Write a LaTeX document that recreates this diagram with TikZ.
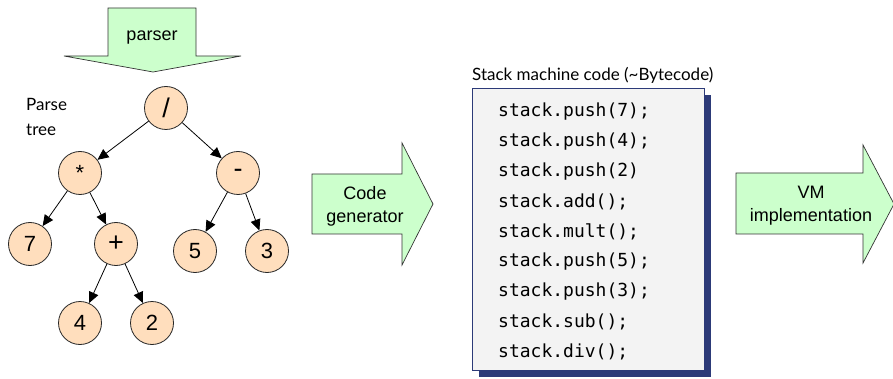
\documentclass[tikz,border=0pt]{standalone}
\usepackage{fontspec}
\setmainfont{Liberation Sans}
\newfontfamily\casualfont{Lato}
\newfontfamily\codefont{DejaVu Sans Mono}
\usetikzlibrary{arrows.meta,shadows}
\definecolor{blockgreen}{HTML}{CCFFCC}
\definecolor{peach}{HTML}{FFDEBD}
\definecolor{navy}{HTML}{2C3A78}
\definecolor{codebg}{HTML}{F3F3F3}
\tikzset{
  blockarrow/.style={draw=black!80, line width=0.7pt, fill=blockgreen, line join=miter},
  arrowtext/.style={font=\fontsize{18}{23}\selectfont, align=center, inner sep=0pt},
  treenode/.style={circle, draw=black!85, line width=0.8pt, fill=peach, minimum size=43pt, inner sep=0pt, font=\fontsize{22}{24}\selectfont},
  bigsym/.style={font=\fontsize{27}{28}\selectfont},
  treeedge/.style={line width=0.8pt, -{Triangle[length=11pt,width=10pt]}},
  codeline/.style={anchor=west, inner sep=0pt, font=\codefont\fontsize{18}{20}\selectfont},
  casual/.style={inner sep=0pt, font=\casualfont\fontsize{17}{25}\selectfont}
}
\begin{document}
\begin{tikzpicture}[x=1pt,y=-1pt]
\useasboundingbox (0,0) rectangle (893,379);

% parser block arrow
\draw[blockarrow] (108,8) -- (196,8) -- (196,56) -- (241,56) -- (153,72) -- (64,56) -- (108,56) -- cycle;
\node[arrowtext] (parser) at (152,38) {parser};

% parse tree label
\node[casual, anchor=west, align=left] (ptlabel) at (26,117) {Parse\\tree};

% tree nodes
\node[treenode, bigsym] (div) at (166,108) {/};
\node[treenode] (mul) at (80,173) {*};
\node[treenode, bigsym] (sub) at (238,173) {-};
\node[treenode] (n7) at (30,244) {7};
\node[treenode, bigsym] (add) at (116,244) {+};
\node[treenode] (n5) at (195,251) {5};
\node[treenode] (n3) at (267,251) {3};
\node[treenode] (n4) at (80,323) {4};
\node[treenode] (n2) at (152,323) {2};

\draw[treeedge] (div) -- (mul);
\draw[treeedge] (div) -- (sub);
\draw[treeedge] (mul) -- (n7);
\draw[treeedge] (mul) -- (add);
\draw[treeedge] (add) -- (n4);
\draw[treeedge] (add) -- (n2);
\draw[treeedge] (sub) -- (n5);
\draw[treeedge] (sub) -- (n3);

% code generator arrow
\draw[blockarrow] (312,174) -- (402,174) -- (402,143) -- (433,204) -- (402,265) -- (402,234) -- (312,234) -- cycle;
\node[arrowtext] (codegen) at (365,206) {Code\\generator};

% stack machine code box
\node[casual, anchor=west] (title) at (472,75) {Stack machine code (\textasciitilde Bytecode)};
\node[draw=navy, line width=0.8pt, fill=codebg, anchor=north west, minimum width=232pt, minimum height=282pt, inner sep=0pt,
      drop shadow={shadow xshift=7pt, shadow yshift=-7pt, opacity=1, fill=navy}] (codebox) at (472,88) {};
\node[codeline] (c1) at (498,112) {stack.push(7);};
\node[codeline] (c2) at (498,142) {stack.push(4);};
\node[codeline] (c3) at (498,172) {stack.push(2)};
\node[codeline] (c4) at (498,202) {stack.add();};
\node[codeline] (c5) at (498,232) {stack.mult();};
\node[codeline] (c6) at (498,262) {stack.push(5);};
\node[codeline] (c7) at (498,292) {stack.push(3);};
\node[codeline] (c8) at (498,322) {stack.sub();};
\node[codeline] (c9) at (498,352) {stack.div();};

% VM implementation arrow
\draw[blockarrow] (736,173) -- (863,173) -- (863,145) -- (894,204) -- (863,263) -- (863,234) -- (736,234) -- cycle;
\node[arrowtext] (vm) at (811,206) {VM\\implementation};
\end{tikzpicture}
\end{document}
